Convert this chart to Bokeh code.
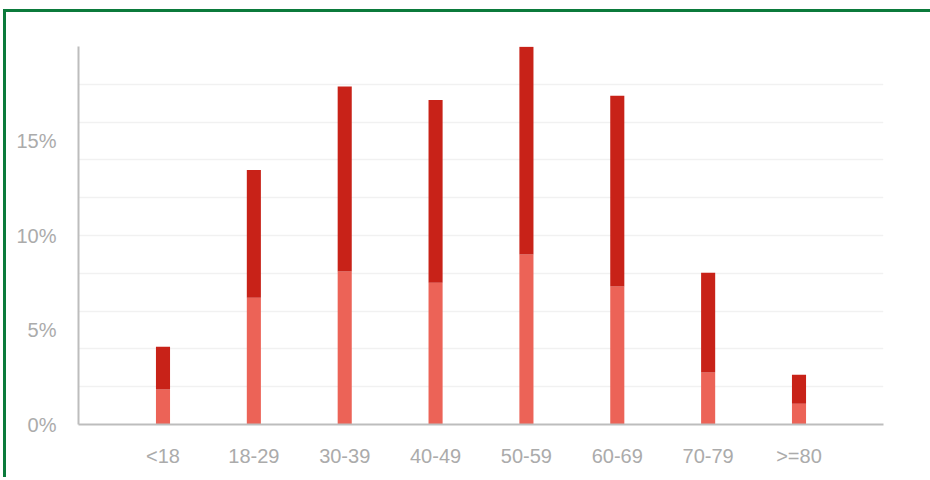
from bokeh.plotting import figure
from bokeh.models import FactorRange, Range1d, FixedTicker, SingleIntervalTicker, Grid, CustomJSTickFormatter
from bokeh.embed import file_html
from bokeh.resources import INLINE

categories = ["<18", "18-29", "30-39", "40-49", "50-59", "60-69", "70-79", ">=80"]
lower_share = [1.85, 6.7, 8.1, 7.5, 9.0, 7.3, 2.75, 1.1]
upper_share = [2.27, 6.77, 9.78, 9.67, 10.99, 10.09, 5.28, 1.53]
y_tick_values = [0, 5, 10, 15]
series_names = ["lower", "upper"]
colors = ["#ec6357", "#c82218"]

W, H = 927, 468
cx, cy = 6, 12

p = figure(x_range=FactorRange(factors=categories, range_padding=0.43, range_padding_units="absolute"),
           y_range=Range1d(0, 20),
           width=W, height=H, output_backend="svg", toolbar_location=None,
           min_border_left=78 - cx, min_border_right=cx + W - 883,
           min_border_top=46 - cy, min_border_bottom=cy + H - 424)

data = {"cat": categories, "lower": lower_share, "upper": upper_share}
p.vbar_stack(series_names, x="cat", width=0.155, color=colors, source=data, line_width=0)

p.outline_line_color = None
p.xgrid.grid_line_color = None
p.ygrid.grid_line_color = None
p.add_layout(Grid(dimension=1, ticker=SingleIntervalTicker(interval=2), grid_line_color="#f1f1f1", grid_line_width=1.5))

p.yaxis.ticker = FixedTicker(ticks=y_tick_values)
p.yaxis.formatter = CustomJSTickFormatter(code="return tick + '%';")
for ax in (p.xaxis[0], p.yaxis[0]):
    ax.axis_line_color = "#bdbdbd"
    ax.axis_line_width = 2
    ax.major_tick_line_color = None
    ax.minor_tick_line_color = None
    ax.major_label_text_color = "#ababab"
    ax.major_label_text_font = "Liberation Sans"
    ax.major_label_text_font_size = "20px"
p.xaxis.major_label_standoff = 14
p.yaxis.major_label_standoff = 16

p.styles = {"margin-left": "3px", "margin-top": "9px", "overflow": "hidden",
            "border-top": "3px solid #0b7a3b", "border-left": "3px solid #0b7a3b"}

open("out.html", "w").write(file_html(p, INLINE))
